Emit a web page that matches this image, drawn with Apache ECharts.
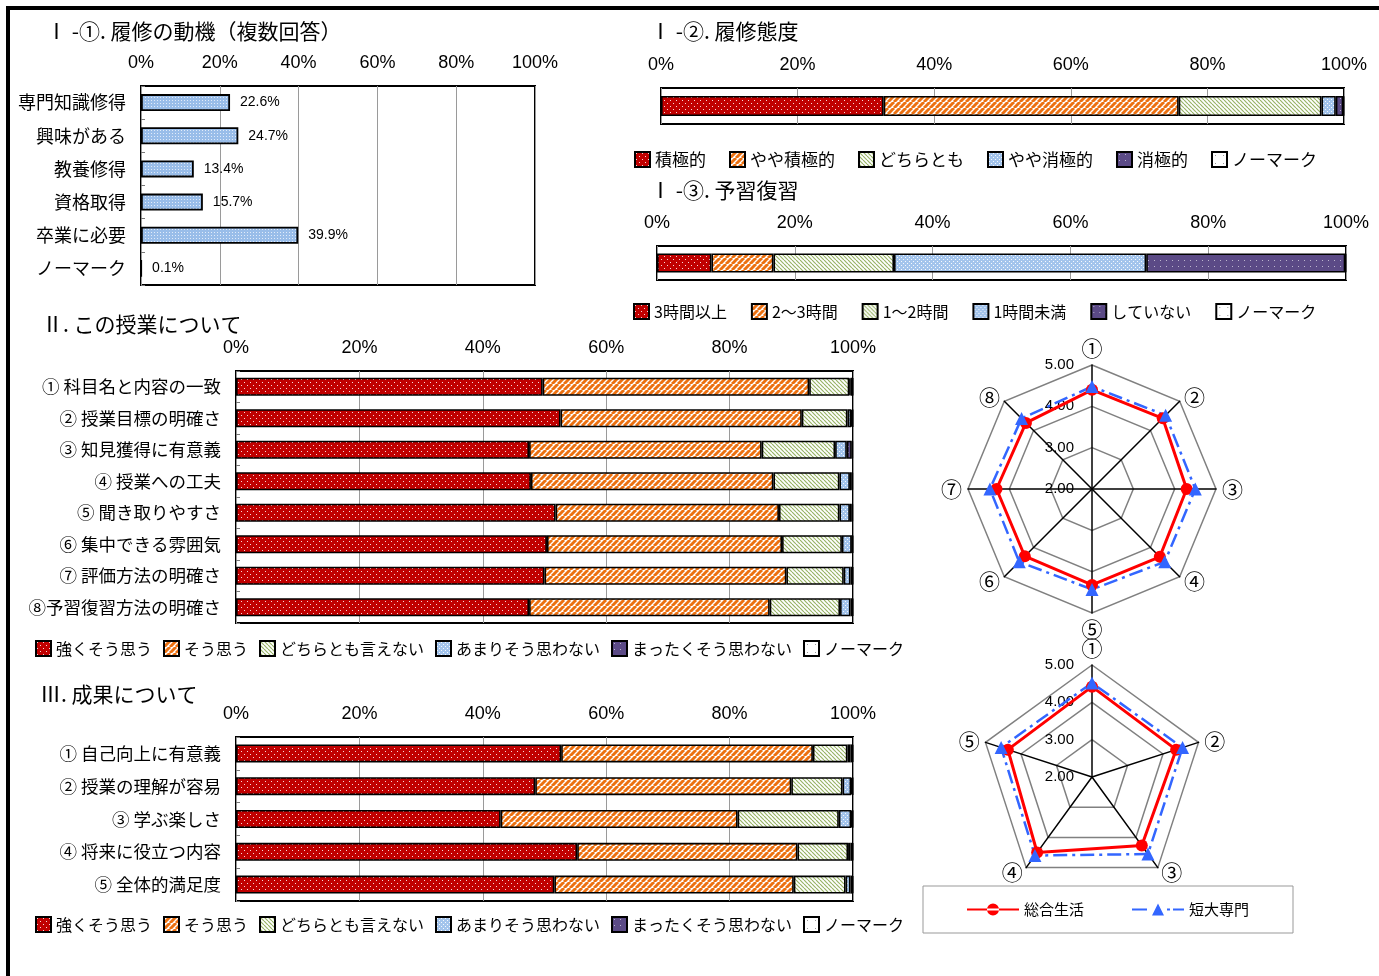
<!DOCTYPE html>
<html>
<head>
<meta charset="utf-8">
<script src="https://cdn.jsdelivr.net/npm/echarts@6/dist/echarts.min.js"></script>
<style>
  html, body { margin: 0; padding: 0; background: #fff; }
  #chart { width: 1379px; height: 976px; }
</style>
</head>
<body>
<div id="chart"></div>
<script>
// I-① 履修の動機
const motiveCats = ['専門知識修得', '興味がある', '教養修得', '資格取得', '卒業に必要', 'ノーマーク']
const motiveVals = [22.6, 24.7, 13.4, 15.7, 39.9, 0.1]

// I-② 履修態度
const attitudeNames = ['積極的', 'やや積極的', 'どちらとも', 'やや消極的', '消極的', 'ノーマーク']
const attitudeVals = [32.6, 43.2, 20.9, 2.1, 1.1, 0.1]

// I-③ 予習復習
const studyNames = ['3時間以上', '2～3時間', '1～2時間', '1時間未満', 'していない', 'ノーマーク']
const studyVals = [7.9, 9.0, 17.5, 36.6, 28.9, 0.1]

// II / III 共通の回答区分
const agreeNames = ['強くそう思う', 'そう思う', 'どちらとも言えない', 'あまりそう思わない', 'まったくそう思わない', 'ノーマーク']

// II. この授業について
const classCats = ['① 科目名と内容の一致', '② 授業目標の明確さ', '③ 知見獲得に有意義', '④ 授業への工夫',
  '⑤ 聞き取りやすさ', '⑥ 集中できる雰囲気', '⑦ 評価方法の明確さ', '⑧予習復習方法の明確さ']
const classStrong = [49.7, 52.6, 47.5, 47.8, 51.8, 50.4, 50.0, 47.5]
const classAgree = [43.2, 39.1, 37.7, 39.3, 36.2, 38.1, 39.2, 39.0]
const classNeutral = [6.5, 7.4, 11.9, 10.7, 9.8, 9.7, 9.3, 11.4]
const classLittle = [0.2, 0.6, 1.9, 1.7, 1.7, 1.6, 1.1, 1.7]
const classNone = [0.3, 0.2, 0.8, 0.3, 0.3, 0.1, 0.3, 0.3]
const classNoMark = [0.1, 0.1, 0.2, 0.2, 0.2, 0.1, 0.1, 0.1]

// III. 成果について
const resultCats = ['① 自己向上に有意義', '② 授業の理解が容易', '③ 学ぶ楽しさ', '④ 将来に役立つ内容', '⑤ 全体的満足度']
const resStrong = [52.7, 48.5, 42.9, 55.3, 51.6]
const resAgree = [40.8, 41.5, 38.4, 35.7, 38.8]
const resNeutral = [5.6, 8.3, 16.4, 8.2, 8.4]
const resLittle = [0.5, 1.4, 2.0, 0.4, 0.8]
const resNone = [0.3, 0.2, 0.2, 0.3, 0.3]
const resNoMark = [0.1, 0.1, 0.1, 0.1, 0.1]

// レーダー（平均点）
const radarSeriesNames = ['総合生活', '短大専門']
const classAxes = ['①', '②', '③', '④', '⑤', '⑥', '⑦', '⑧']
const classGeneral = [4.40, 4.42, 4.29, 4.32, 4.32, 4.30, 4.31, 4.26]
const classJunior = [4.48, 4.52, 4.50, 4.49, 4.43, 4.49, 4.47, 4.41]
const resultAxes = ['①', '②', '③', '④', '⑤']
const resGeneral = [4.42, 4.37, 4.27, 4.50, 4.37]
const resJunior = [4.52, 4.55, 4.55, 4.60, 4.56]

const JP = "'Noto Sans CJK JP', sans-serif"
const NUM = "'Liberation Sans', Arial, sans-serif"

// 塗りつぶしパターン（Excel風）
function pattern(w, h, bg, draw) {
  const c = document.createElement('canvas')
  c.width = w
  c.height = h
  const ctx = c.getContext('2d')
  ctx.fillStyle = bg
  ctx.fillRect(0, 0, w, h)
  draw(ctx)
  return { image: c, repeat: 'repeat' }
}
function dots(ctx, color, pts) {
  ctx.fillStyle = color
  pts.forEach(([x, y]) => ctx.fillRect(x, y, 1, 1))
}
function diag(ctx, color, width, w, up) {
  ctx.strokeStyle = color
  ctx.lineWidth = width
  for (let k = -1; k <= 1; k++) {
    ctx.beginPath()
    if (up) {
      ctx.moveTo(k * w, w)
      ctx.lineTo(k * w + w, 0)
    } else {
      ctx.moveTo(k * w, 0)
      ctx.lineTo(k * w + w, w)
    }
    ctx.stroke()
  }
}
const fills = [
  pattern(6, 6, '#C00000', (x) => dots(x, 'rgba(255,255,255,0.85)', [[1, 1], [4, 4]])),
  pattern(6, 6, '#ffffff', (x) => diag(x, '#EC7010', 3, 6, true)),
  pattern(4, 4, '#ffffff', (x) => diag(x, '#98B466', 1.2, 4, false)),
  pattern(4, 4, '#A3C4EC', (x) => dots(x, 'rgba(255,255,255,0.9)', [[1, 1], [3, 3]])),
  pattern(6, 6, '#5B4A86', (x) => dots(x, 'rgba(255,255,255,0.6)', [[2, 2]])),
  pattern(8, 8, '#ffffff', (x) => dots(x, '#999', [[3, 3]])),
]
const motiveFill = pattern(3, 3, '#99BDE9', (x) => dots(x, 'rgba(255,255,255,0.7)', [[1, 1]]))

const grids = [
  { left: 141, top: 86, width: 394, height: 199 },
  { left: 661, top: 88, width: 683, height: 36 },
  { left: 657, top: 246, width: 689, height: 34 },
  { left: 236, top: 371, width: 617, height: 252 },
  { left: 236, top: 737, width: 617, height: 164 },
].map((g) => ({ ...g, show: true, borderColor: '#000', borderWidth: 2, containLabel: false }))

function pctAxis(gi) {
  return {
    type: 'value',
    gridIndex: gi,
    min: 0,
    max: 100,
    interval: 20,
    position: 'top',
    axisLine: { show: false },
    axisTick: { show: false },
    splitLine: { lineStyle: { color: '#9a9a9a', width: 1 } },
    axisLabel: { formatter: '{value}%', fontSize: 18, color: '#000', fontFamily: NUM, margin: 14 },
  }
}
function catAxis(gi, cats, showLabel, fontSize) {
  return {
    type: 'category',
    gridIndex: gi,
    data: cats,
    inverse: true,
    axisLine: { show: false },
    axisTick: { show: showLabel, inside: true, length: 4, lineStyle: { color: '#777' } },
    axisLabel: { show: showLabel, fontSize, color: '#000', fontFamily: JP, margin: 15 },
  }
}

function stacked(names, cols, gi, stack, barW) {
  return names.map((n, i) => ({
    name: n,
    type: 'bar',
    stack,
    xAxisIndex: gi,
    yAxisIndex: gi,
    barWidth: barW,
    data: cols[i],
    itemStyle: { color: fills[i], borderColor: '#000', borderWidth: 1.6 },
    emphasis: { disabled: true },
  }))
}

// ECharts のレーダーは反時計回りなので、時計回りに並べ替える
const cw = (arr) => [arr[0]].concat(arr.slice(1).reverse())

function radarOpt(axes, center, radius) {
  return {
    center,
    radius,
    startAngle: 90,
    splitNumber: 3,
    shape: 'polygon',
    nameGap: 6,
    indicator: cw(axes).map((n, k) => (k === 0
      ? { name: n, min: 2, max: 5, axisLabel: { show: true } }
      : { name: n, min: 2, max: 5 })),
    axisName: { color: '#000', fontSize: 21, fontFamily: JP },
    axisLine: { lineStyle: { color: '#000', width: 1.5 } },
    splitLine: { lineStyle: { color: '#808080', width: 1.5 } },
    splitArea: { show: false },
    axisLabel: {
      show: false,
      color: '#000',
      fontSize: 15,
      fontFamily: NUM,
      margin: 18,
      formatter: (v) => Number(v).toFixed(2),
    },
  }
}
function radarSeries(ri, general, junior) {
  return {
    type: 'radar',
    radarIndex: ri,
    emphasis: { disabled: true },
    data: [
      {
        name: radarSeriesNames[0],
        value: cw(general),
        symbol: 'circle',
        symbolSize: 12,
        itemStyle: { color: '#FF0000' },
        lineStyle: { color: '#FF0000', width: 3 },
      },
      {
        name: radarSeriesNames[1],
        value: cw(junior),
        symbol: 'triangle',
        symbolSize: 13,
        itemStyle: { color: '#3366FF' },
        lineStyle: { color: '#3366FF', width: 2.5, type: [14, 5, 3, 5] },
      },
    ],
  }
}

function legendOpt(names, left, top, fontSize, gap) {
  return {
    data: names,
    icon: 'rect',
    left,
    top,
    padding: 0,
    itemWidth: 15,
    itemHeight: 15,
    itemGap: gap,
    selectedMode: false,
    textStyle: { fontSize, color: '#000', fontFamily: JP },
  }
}

const titleStyle = { fontSize: 21, fontWeight: 'normal', color: '#000', fontFamily: JP }

const chart = echarts.init(document.getElementById('chart'))
const option = {
  animation: false,
  backgroundColor: '#fff',
  title: [
    { text: 'Ⅰ -①. 履修の動機（複数回答）', left: 46, top: 21, padding: 0, textStyle: titleStyle },
    { text: 'Ⅰ -②. 履修態度', left: 650, top: 21, padding: 0, textStyle: titleStyle },
    { text: 'Ⅰ -③. 予習復習', left: 650, top: 180, padding: 0, textStyle: titleStyle },
    { text: 'Ⅱ. この授業について', left: 42, top: 314, padding: 0, textStyle: titleStyle },
    { text: 'Ⅲ. 成果について', left: 40, top: 684, padding: 0, textStyle: titleStyle },
  ],
  graphic: [
    { type: 'rect', shape: { x: 6, y: 6, width: 1373, height: 4 }, style: { fill: '#000' } },
    { type: 'rect', shape: { x: 6, y: 6, width: 4, height: 970 }, style: { fill: '#000' } },
  ],
  grid: grids,
  xAxis: [0, 1, 2, 3, 4].map(pctAxis),
  yAxis: [
    catAxis(0, motiveCats, true, 18),
    catAxis(1, [''], false, 16),
    catAxis(2, [''], false, 16),
    catAxis(3, classCats, true, 17.5),
    catAxis(4, resultCats, true, 17.5),
  ],
  radar: [
    radarOpt(classAxes, [1092, 489], 124),
    radarOpt(resultAxes, [1092, 777], 112),
  ],
  legend: [
    legendOpt(attitudeNames, 634, 151, 17, 23),
    legendOpt(studyNames, 633, 303, 16, 24),
    legendOpt(agreeNames, 35, 640, 16, 11),
    legendOpt(agreeNames, 35, 916, 16, 11),
    {
      left: 923,
      top: 886,
      padding: [16, 44],
      itemWidth: 52,
      itemHeight: 12,
      itemGap: 48,
      selectedMode: false,
      borderColor: '#999',
      borderWidth: 1,
      textStyle: { fontSize: 15, color: '#000', fontFamily: JP },
      data: [
        { name: radarSeriesNames[0], icon: 'path://M0,5L52,5L52,7L0,7Z M20,6A6,6 0 1,0 32,6A6,6 0 1,0 20,6Z' },
        { name: radarSeriesNames[1], icon: 'path://M0,5L15,5L15,7L0,7Z M26,0L32,12L20,12Z M35,5L38,5L38,7L35,7Z M41,5L52,5L52,7L41,7Z' },
      ],
    },
  ],
  series: [
    {
      name: '履修の動機',
      type: 'bar',
      xAxisIndex: 0,
      yAxisIndex: 0,
      barWidth: 17,
      data: motiveVals,
      itemStyle: { color: motiveFill, borderColor: '#000', borderWidth: 1.8 },
      emphasis: { disabled: true },
      label: {
        show: true,
        position: 'right',
        distance: 10,
        color: '#000',
        fontSize: 14,
        fontFamily: "'Liberation Sans Narrow', 'Liberation Sans', sans-serif",
        formatter: (p) => p.value.toFixed(1) + '%',
      },
    },
    ...stacked(attitudeNames, attitudeVals.map((v) => [v]), 1, 'att', 20),
    ...stacked(studyNames, studyVals.map((v) => [v]), 2, 'study', 19),
    ...stacked(agreeNames, [classStrong, classAgree, classNeutral, classLittle, classNone, classNoMark], 3, 'cls', 18),
    ...stacked(agreeNames, [resStrong, resAgree, resNeutral, resLittle, resNone, resNoMark], 4, 'res', 18),
    radarSeries(0, classGeneral, classJunior),
    radarSeries(1, resGeneral, resJunior),
  ],
}
chart.setOption(option)
</script>
</body>
</html>
